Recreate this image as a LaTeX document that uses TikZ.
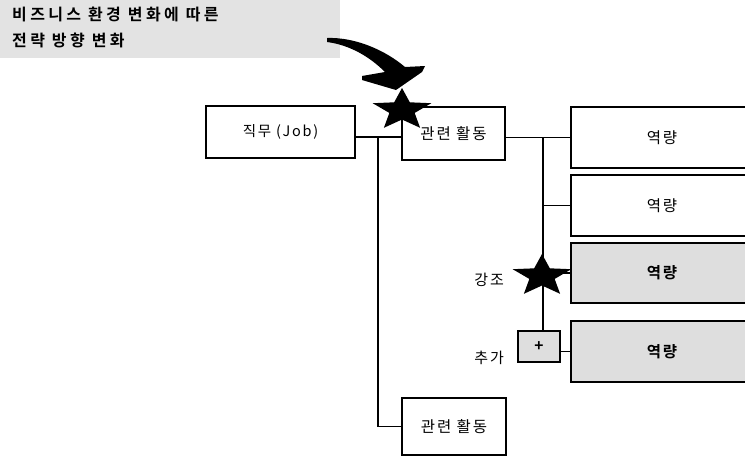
\documentclass[tikz,border=0pt]{standalone}
\usepackage{fontspec}
\setmainfont{Noto Sans CJK KR}
\newfontfamily\kr[LetterSpace=12]{Noto Sans CJK KR}
\newfontfamily\krb[LetterSpace=12]{Noto Sans CJK KR Bold}
\newfontfamily\krt[LetterSpace=21]{Noto Sans CJK KR Bold}
\newcommand\drawstar[1]{\fill[shift={#1}, xscale=1.4] (-90:22) -- (-54:9.5) -- (-18:22) -- (18:9.5) -- (54:22) -- (90:9.5) -- (126:22) -- (162:9.5) -- (198:22) -- (234:9.5) -- cycle;}
\begin{document}
\begin{tikzpicture}[x=1pt,y=-1pt,
  box/.style={draw, line width=1.3pt, inner sep=0pt, font=\kr\fontsize{15.5}{17}\selectfont},
  graybox/.style={box, fill=black!13, font=\krb\fontsize{15.5}{17}\selectfont},
  conn/.style={line width=1.1pt},
  lbl/.style={anchor=east, inner sep=0pt, font=\kr\fontsize{15}{17}\selectfont},
  ttl/.style={anchor=west, inner sep=0pt, font=\krt\fontsize{16}{18}\selectfont}]
\useasboundingbox (0,0) rectangle (745,458);
\fill[black!11] (0,0) rectangle (340,58);
\node[ttl] (t1) at (12,14) {비즈니스 환경 변화에 따른};
\node[ttl] (t2) at (12,40) {전략 방향 변화};
% curved arrow
\fill (327,38) .. controls (355,37) and (385,50) .. (405,67) -- (425,66) -- (422,72) -- (396,90) -- (362,80) -- (362,76) -- (385,72) .. controls (370,57) and (350,45) .. (327,42) -- cycle;
% boxes
\node[box, minimum width=149pt, minimum height=52pt, font=\kr\fontsize{14.5}{17}\selectfont] (job) at (280.5,132) {직무 (Job)};
\node[box, minimum width=103pt, minimum height=53pt] (act1) at (453.5,133.5) {관련 활동};
\node[box, minimum width=104pt, minimum height=57pt] (act2) at (454,426.5) {관련 활동};
\node[box, minimum width=182pt, minimum height=61pt] (c1) at (662,137.5) {역량};
\node[box, minimum width=182pt, minimum height=61pt] (c2) at (662,205.5) {역량};
\node[graybox, minimum width=182pt, minimum height=60pt] (c3) at (662,273) {역량};
\node[graybox, minimum width=182pt, minimum height=61pt] (c4) at (662,351.5) {역량};
\node[graybox, minimum width=42pt, minimum height=31pt] (plus) at (539,346.5) {+};
\node[lbl] (l1) at (504,280) {강조};
\node[lbl] (l2) at (504,358) {추가};
% connectors
\coordinate (jn) at (378,137);
\coordinate (vn) at (543,137);
\draw[conn] (job.east |- jn) -- (act1.west |- jn);
\draw[conn] (jn) |- (act2.west);
\draw[conn] (act1.east |- c1.west) -- (c1.west);
\draw[conn] (vn) -- (vn |- plus.north);
\draw[conn] (vn |- c2.west) -- (c2.west);
\draw[conn] (vn |- c3.west) -- (c3.west);
\draw[conn] (plus.east |- c4.west) -- (c4.west);
% stars
\drawstar{(402,110)}
\drawstar{(542,276)}
\end{tikzpicture}
\end{document}
